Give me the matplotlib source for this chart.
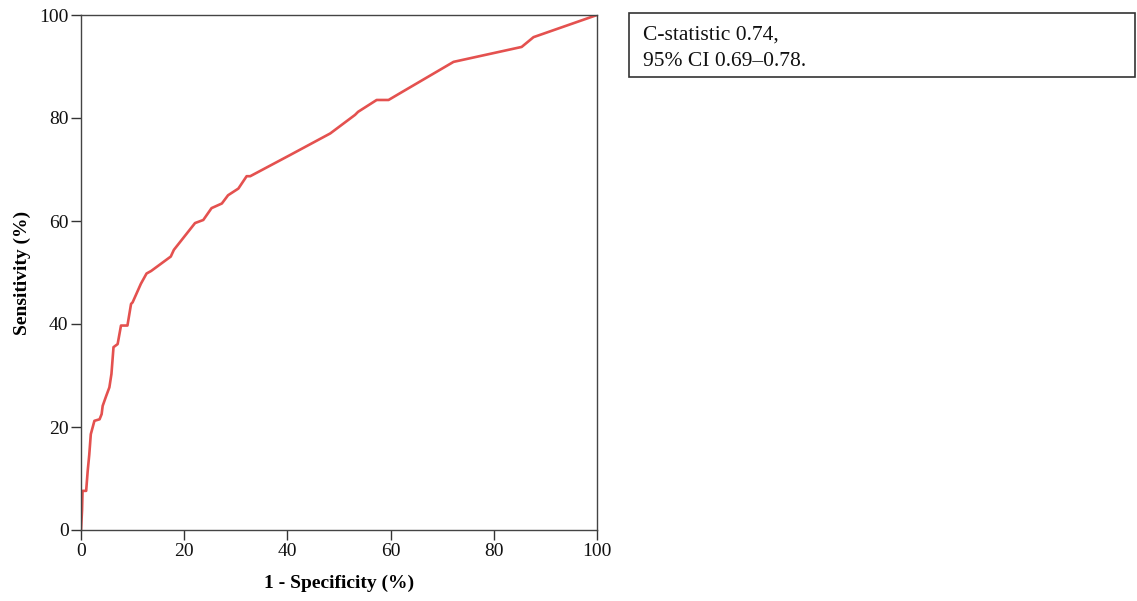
import matplotlib
matplotlib.use("Agg")
import matplotlib.pyplot as plt
from matplotlib.patches import Rectangle

# ROC curve points (1 - specificity %, sensitivity %)
fpr = [0.0, 0.2, 0.3, 1.0, 1.3, 1.6, 1.9, 2.6, 3.6, 4.0, 4.2, 4.8, 5.5, 5.9, 6.3, 7.1,
       7.75, 9.0, 9.7, 10.0, 11.6, 12.7, 13.6, 17.4, 18.0, 22.1, 23.7, 25.3, 27.3, 28.5,
       30.5, 32.1, 32.8, 40.5, 48.3, 53.1, 53.7, 57.3, 59.6, 61.8, 72.2, 85.4, 87.7, 100.0]
tpr = [0.0, 3.8, 7.6, 7.6, 11.5, 14.6, 18.6, 21.2, 21.5, 22.5, 24.1, 25.8, 27.7, 30.3, 35.5, 36.1,
       39.7, 39.7, 43.9, 44.2, 47.8, 49.8, 50.3, 53.1, 54.4, 59.6, 60.2, 62.5, 63.4, 65.0,
       66.3, 68.7, 68.7, 72.8, 77.0, 80.6, 81.2, 83.5, 83.5, 84.8, 90.9, 93.8, 95.7, 100.0]
xticks = [0, 20, 40, 60, 80, 100]
yticks = [0, 20, 40, 60, 80, 100]
annot_lines = ["C-statistic 0.74,", "95% CI 0.69\u20130.78."]

plt.rcParams['font.family'] = ['Liberation Serif', 'DejaVu Serif']

fig = plt.figure(figsize=(11.37, 6.01), dpi=100)
ax = fig.add_axes([81/1137, 1-530/601, (597-81)/1137, (530-15)/601])
ax.plot(fpr, tpr, color='#e4514f', lw=1.9, solid_joinstyle='round')
ax.set_xlim(0, 100)
ax.set_ylim(0, 100)
ax.set_xticks(xticks)
ax.set_yticks(yticks)
ax.tick_params(direction='out', length=7, width=1, colors='#333333', labelsize=14,
               labelcolor='#111111', pad=2)
for s in ax.spines.values():
    s.set_color('#444444')
    s.set_linewidth(1)
ax.set_xlabel('1 - Specificity (%)', fontsize=14, fontweight='bold', labelpad=11)
ax.set_ylabel('Sensitivity (%)', fontsize=14, fontweight='bold', labelpad=6)

# annotation box
bx0, by0, bx1, by1 = 629, 13, 1135, 77
fig.patches.append(Rectangle((bx0/1137, 1-by1/601), (bx1-bx0)/1137, (by1-by0)/601,
                             transform=fig.transFigure, fill=False,
                             edgecolor='#333333', lw=1.2))
fig.text(643/1137, 1-35/601, annot_lines[0], fontsize=15.5, va='center', ha='left',
         color='#111111')
fig.text(643/1137, 1-61/601, annot_lines[1], fontsize=15.5, va='center', ha='left',
         color='#111111')

fig.savefig('out.png', dpi=100)
